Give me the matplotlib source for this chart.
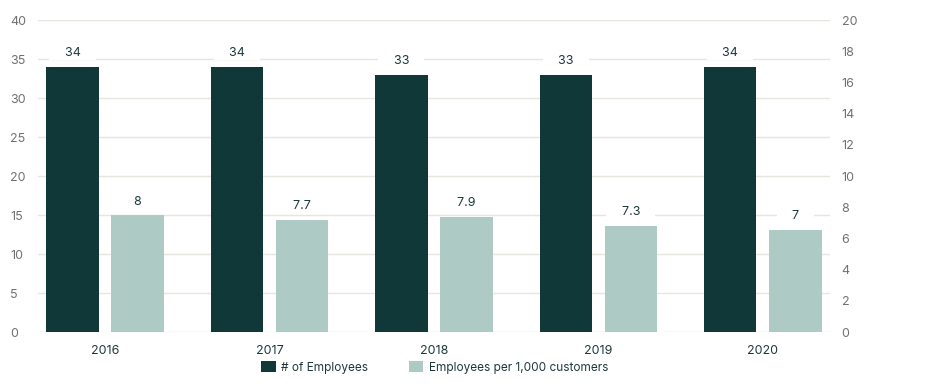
import matplotlib
matplotlib.use("Agg")
import matplotlib.pyplot as plt
import numpy as np

years = ["2016", "2017", "2018", "2019", "2020"]
employees = [34, 34, 33, 33, 34]
per_1000 = [8, 7.7, 7.9, 7.3, 7]
per_1000_labels = ["8", "7.7", "7.9", "7.3", "7"]

DARK = "#113838"
LIGHT = "#adcbc4"
GRID = "#e8e5de"
TICK = "#707070"
TEXT = "#1d3a3a"

plt.rcParams["font.family"] = ["Inter", "DejaVu Sans"]

fig = plt.figure(figsize=(9.45, 3.9), dpi=100)
ax = fig.add_axes([0.0402, 0.1487, 0.838, 0.80])
ax_r = ax.twinx()          # visible right scale 0-20
ax_b = ax.twinx()          # hidden scale for the light bars
ax_b.set_ylim(0, 21.4)
ax_b.axis("off")

x = np.arange(len(years))
w = 0.318
off = 0.198

ax.bar(x - off, employees, w, color=DARK, zorder=3, label="# of Employees")
ax_b.bar(x + off, per_1000, w, color=LIGHT, zorder=3, label="Employees per 1,000 customers")

# value labels sit on a white strip that breaks the gridline
for xi, v in zip(x, employees):
    ax.annotate(f"    {v}    ", (xi - off, v), xytext=(0, 5.5), textcoords="offset points",
                ha="center", va="bottom", fontsize=9, color=TEXT, zorder=5,
                bbox=dict(boxstyle="square,pad=0.1", fc="white", ec="none"))
for xi, v, s in zip(x, per_1000, per_1000_labels):
    ax_b.annotate(f"    {s}    ", (xi + off, v), xytext=(0, 5.5), textcoords="offset points",
                  ha="center", va="bottom", fontsize=9, color=TEXT, zorder=5,
                  bbox=dict(boxstyle="square,pad=0.1", fc="white", ec="none"))

ax.set_xlim(-0.408, len(years) - 1 + 0.408)
ax_b.set_xlim(ax.get_xlim())
ax.set_ylim(0, 40)
ax.set_yticks(np.arange(0, 41, 5))
ax.grid(axis="y", color=GRID, linewidth=1, zorder=0)
ax.set_axisbelow(True)

ax_r.set_ylim(0, 20)
ax_r.set_yticks(np.arange(0, 21, 2))

ax.set_xticks(x)
ax.set_xticklabels(years)

for a in (ax, ax_r, ax_b):
    for s in a.spines.values():
        s.set_visible(False)

ax.tick_params(axis="y", length=0, pad=20, labelsize=9, labelcolor=TICK)
for lab in ax.get_yticklabels():
    lab.set_horizontalalignment("left")
ax_r.tick_params(axis="y", length=0, pad=8.5, labelsize=9, labelcolor=TICK)
ax.tick_params(axis="x", length=0, pad=9, labelsize=9, labelcolor=TEXT)

h1, l1 = ax.get_legend_handles_labels()
h2, l2 = ax_b.get_legend_handles_labels()
leg = fig.legend(h1 + h2, l1 + l2, loc="center", bbox_to_anchor=(0.46, 0.058), ncol=2,
                 frameon=False, fontsize=8.5, handlelength=1.2, handleheight=1.0,
                 handletextpad=0.5, columnspacing=3.4)
for t in leg.get_texts():
    t.set_color(TEXT)

fig.savefig("out.png", dpi=100)
